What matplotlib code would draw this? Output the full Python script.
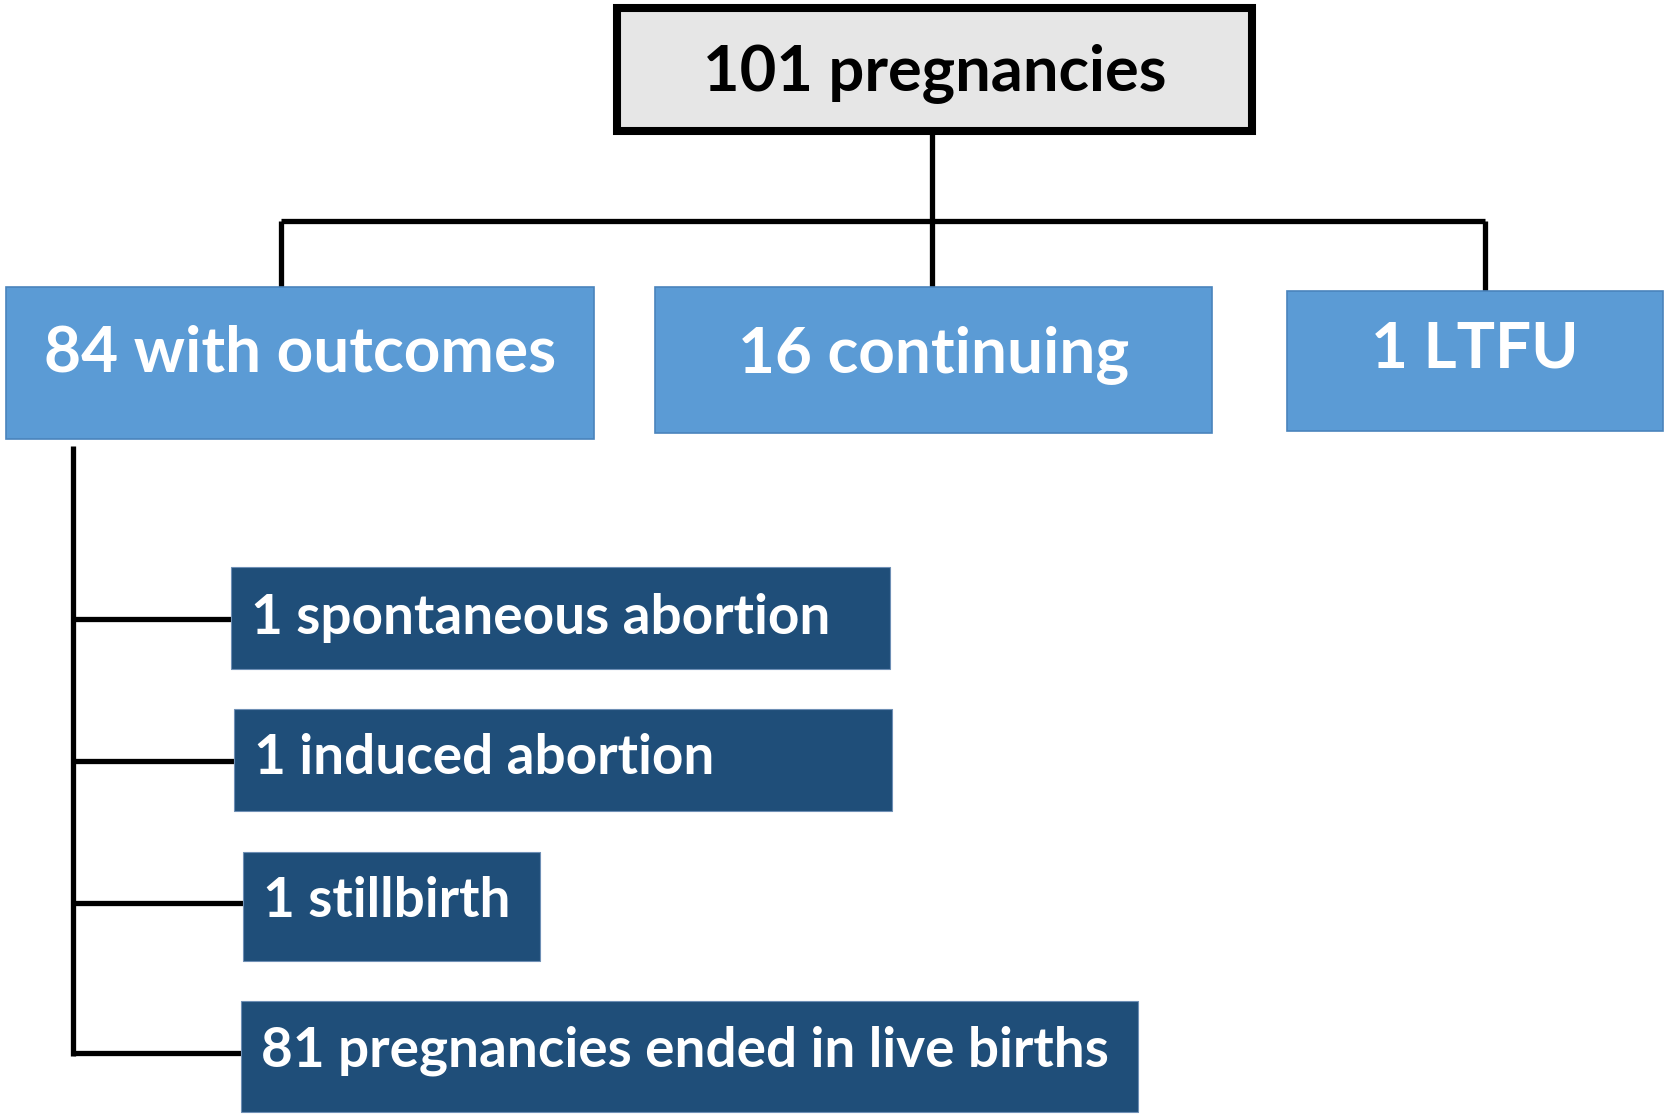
import matplotlib.pyplot as plt
from matplotlib.patches import Rectangle

# ─── Chart content ───────────────────────────────────────────────────────────
TOP_LABEL = "101 pregnancies"
MID_LABELS = ["84 with outcomes", "16 continuing", "1 LTFU"]
OUTCOME_LABELS = ["1 spontaneous abortion", "1 induced abortion",
                  "1 stillbirth", "81 pregnancies ended in live births"]

# ─── Colours ─────────────────────────────────────────────────────────────────
GREY_FILL = "#E6E6E6"
LIGHT_BLUE = "#5B9BD5"
LIGHT_EDGE = "#4A84BC"
DARK_BLUE = "#1F4E79"
DARK_EDGE = "#6E8FB5"
FONT = ["Lato", "DejaVu Sans"]
LW = 3.8

# ─── Layout in pixel coordinates (x0, y0, x1, y1), text baseline ────────────
TOP_BOX = (617, 8, 1252, 131)
TOP_BASE = 90
MID_BOXES = [(6, 287, 594, 439), (655, 287, 1212, 433), (1287, 291, 1663, 431)]
MID_BASE = [372, 372, 368]
OUT_BOXES = [(231, 567, 890, 669), (234, 709, 892, 811),
             (243, 852, 540, 961), (241, 1001, 1138, 1112)]
OUT_BASE = [634, 774, 917, 1066]
TEXT_PAD = 20


def box(ax, b, fc, ec, lw):
    x0, y0, x1, y1 = b
    ax.add_patch(Rectangle((x0, y0), x1 - x0, y1 - y0, facecolor=fc,
                           edgecolor=ec, linewidth=lw, zorder=2))


def main():
    fig = plt.figure(figsize=(16.65, 11.15), dpi=100)
    ax = fig.add_axes([0, 0, 1, 1])
    ax.set_xlim(0, 1665)
    ax.set_ylim(1115, 0)
    ax.axis("off")

    # ── connectors ──────────────────────────────────────────────────────────
    line = dict(color="black", lw=LW, solid_capstyle="butt", zorder=1)
    ax.plot([932, 932], [131, 287], **line)
    ax.plot([281, 1485], [221, 221], **line)
    ax.plot([281, 281], [221, 287], **line)
    ax.plot([1485, 1485], [221, 291], **line)

    ax.plot([73, 73], [446, 1056], **line)
    for b in OUT_BOXES:
        ymid = (b[1] + b[3]) / 2 - 4 if b[3] - b[1] > 105 else (b[1] + b[3]) / 2 + 1
        ax.plot([73, b[0]], [ymid, ymid], **line)

    # ── top box ─────────────────────────────────────────────────────────────
    box(ax, TOP_BOX, GREY_FILL, "black", 5.8)
    ax.text((TOP_BOX[0] + TOP_BOX[2]) / 2, TOP_BASE, TOP_LABEL, ha="center",
            va="baseline", fontsize=45.5, fontweight="bold", color="black",
            family=FONT, zorder=3)

    # ── second row ──────────────────────────────────────────────────────────
    for b, base, label in zip(MID_BOXES, MID_BASE, MID_LABELS):
        box(ax, b, LIGHT_BLUE, LIGHT_EDGE, 1.2)
        ax.text((b[0] + b[2]) / 2, base, label, ha="center", va="baseline",
                fontsize=46, fontweight="bold", color="white", family=FONT,
                zorder=3)

    # ── outcomes ────────────────────────────────────────────────────────────
    for b, base, label in zip(OUT_BOXES, OUT_BASE, OUTCOME_LABELS):
        box(ax, b, DARK_BLUE, DARK_EDGE, 0.8)
        ax.text(b[0] + TEXT_PAD, base, label, ha="left", va="baseline",
                fontsize=39.5, fontweight="bold", color="white", family=FONT,
                zorder=3)

    fig.savefig("out.png", dpi=100, facecolor="white")


if __name__ == "__main__":
    main()
